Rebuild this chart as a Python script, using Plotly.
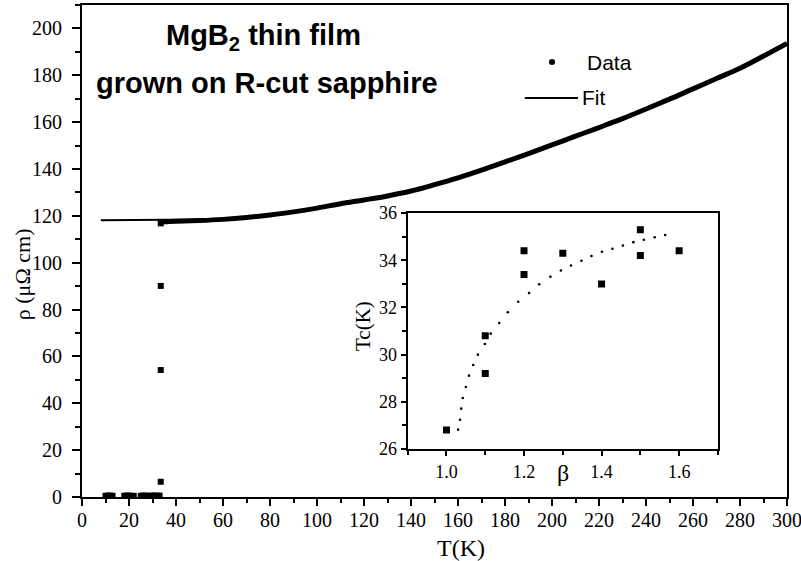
import plotly.graph_objects as go

# ---------------- main panel data ----------------
# normal-state data (dense band)
band_T = [34, 40, 50, 60, 70, 80, 90, 100, 110, 120, 130, 140, 150, 160, 170,
          180, 190, 200, 210, 220, 230, 240, 250, 260, 270, 280, 290, 300]
band_rho = [117.4, 117.7, 118.0, 118.5, 119.3, 120.4, 121.7, 123.3, 125.2, 126.8,
            128.5, 130.6, 133.3, 136.2, 139.5, 143.0, 146.6, 150.3, 154.0, 157.7,
            161.5, 165.6, 169.8, 174.2, 178.6, 183.0, 188.2, 193.6]

# superconducting / transition data points
pts_T = [10, 11, 12, 13, 18, 19, 20, 21, 22, 25, 26, 27, 28, 29, 30, 31, 32, 33,
         33.5, 33.5, 33.5, 33.5]
pts_rho = [0.5, 0.6, 0.6, 0.5, 0.5, 0.6, 0.6, 0.5, 0.5, 0.5, 0.6, 0.6, 0.5, 0.5,
           0.6, 0.6, 0.5, 0.6, 6.5, 54.2, 90.1, 116.8]

# fit curve
fit_T = [8, 20, 30, 40, 50, 60, 70, 80, 90, 100, 110, 120, 130, 140, 150, 160, 170,
         180, 190, 200, 210, 220, 230, 240, 250, 260, 270, 280, 290, 300]
fit_rho = [118.1, 118.1, 118.1, 118.2, 118.4, 118.8, 119.5, 120.5, 121.8, 123.3,
           125.1, 126.9, 128.7, 130.8, 133.4, 136.3, 139.5, 143.0, 146.6, 150.3,
           154.0, 157.7, 161.5, 165.6, 169.8, 174.2, 178.6, 183.0, 188.2, 193.6]

# ---------------- inset data ----------------
beta = [1.0, 1.1, 1.1, 1.2, 1.2, 1.3, 1.4, 1.5, 1.5, 1.6]
tc = [26.8, 30.8, 29.2, 34.4, 33.4, 34.3, 33.0, 35.3, 34.2, 34.4]

beta_fit = [1.030, 1.035, 1.038, 1.042, 1.050, 1.058, 1.069, 1.081, 1.099, 1.114,
            1.136, 1.158, 1.185, 1.213, 1.239, 1.268, 1.295, 1.321, 1.348, 1.374,
            1.401, 1.428, 1.455, 1.482, 1.509, 1.537, 1.564]
tc_fit = [26.82, 27.24, 27.71, 28.16, 28.63, 29.11, 29.56, 30.00, 30.45, 30.89,
          31.34, 31.80, 32.24, 32.61, 32.98, 33.30, 33.57, 33.78, 33.98, 34.18,
          34.36, 34.49, 34.63, 34.77, 34.87, 34.98, 35.07]

main_xticks = list(range(0, 301, 20))
main_yticks = list(range(0, 201, 20))
inset_xticks = [1.0, 1.2, 1.4, 1.6]
inset_yticks = [26, 28, 30, 32, 34, 36]

SERIF = "Liberation Serif, Times New Roman, serif"
SANS = "Liberation Sans, Arial, sans-serif"

fig = go.Figure()
fig.add_trace(go.Scatter(x=fit_T, y=fit_rho, mode="lines",
                         line=dict(color="black", width=2), showlegend=False))
fig.add_trace(go.Scatter(x=band_T, y=band_rho, mode="lines",
                         line=dict(color="black", width=5, shape="spline"),
                         showlegend=False))
fig.add_trace(go.Scatter(x=pts_T, y=pts_rho, mode="markers",
                         marker=dict(symbol="square", size=6, color="black"),
                         showlegend=False))

fig.add_trace(go.Scatter(x=beta_fit, y=tc_fit, mode="markers",
                         marker=dict(symbol="circle", size=2.6, color="black"),
                         xaxis="x2", yaxis="y2", showlegend=False))
fig.add_trace(go.Scatter(x=beta, y=tc, mode="markers",
                         marker=dict(symbol="square", size=7, color="black"),
                         xaxis="x2", yaxis="y2", showlegend=False))

axis_common = dict(showline=True, linecolor="black", mirror=True, ticks="outside",
                   tickcolor="black", showgrid=False, zeroline=False, automargin=False,
                   ticklabeloverflow="allow")

fig.update_layout(
    width=801, height=561,
    margin=dict(l=82, r=14, t=5, b=64, autoexpand=False),
    paper_bgcolor="white", plot_bgcolor="white",
    showlegend=False,
    xaxis=dict(range=[0, 300], tickvals=main_xticks, linewidth=2, ticklen=7,
               tickwidth=2, ticklabelstandoff=-3,
               minor=dict(dtick=10, ticks="outside", ticklen=4, tickwidth=2,
                          tickcolor="black", showgrid=False),
               tickfont=dict(family=SERIF, size=20, color="black"), **axis_common),
    yaxis=dict(range=[0, 210], tickvals=main_yticks, linewidth=2, ticklen=8,
               tickwidth=2, ticklabelstandoff=6,
               minor=dict(dtick=10, ticks="outside", ticklen=5, tickwidth=2,
                          tickcolor="black", showgrid=False),
               tickfont=dict(family=SERIF, size=20, color="black"), **axis_common),
    xaxis2=dict(domain=[0.462, 0.902], anchor="y2", range=[0.9, 1.7],
                tickvals=inset_xticks, ticktext=["1.0", "1.2", "1.4", "1.6"],
                linewidth=2, ticklen=5, tickwidth=1.5,
                minor=dict(dtick=0.1, ticks="outside", ticklen=4, tickwidth=1.5,
                           tickcolor="black", showgrid=False),
                tickfont=dict(family=SERIF, size=18, color="black"), **axis_common),
    yaxis2=dict(domain=[0.0976, 0.577], anchor="x2", range=[26, 36],
                tickvals=inset_yticks, linewidth=2, ticklen=5, tickwidth=1.5,
                ticklabelstandoff=0,
                minor=dict(dtick=1, ticks="outside", ticklen=4, tickwidth=1.5,
                           tickcolor="black", showgrid=False),
                tickfont=dict(family=SERIF, size=18, color="black"), **axis_common),
)

# white background behind the inset
fig.add_shape(type="rect", xref="x2 domain", yref="y2 domain", x0=0, x1=1, y0=0, y1=1,
              fillcolor="white", line=dict(width=0), layer="below")

annotations = [
    dict(text="<b>MgB<sub>2</sub> thin film</b>", x=0.258, y=0.935,
         font=dict(family=SANS, size=29, color="black")),
    dict(text="<b>grown on R-cut sapphire</b>", x=0.262, y=0.841,
         font=dict(family=SANS, size=29, color="black")),
    dict(text="Data", x=0.7135, y=0.884, xanchor="left",
         font=dict(family=SANS, size=21, color="black")),
    dict(text="Fit", x=0.706, y=0.811, xanchor="left",
         font=dict(family=SANS, size=21, color="black")),
    dict(text="T(K)", x=0.5376, y=-0.1037,
         font=dict(family=SERIF, size=24, color="black")),
    dict(text="ρ (μΩ cm)", x=-0.085, y=0.453, textangle=-90,
         font=dict(family=SERIF, size=22, color="black")),
    dict(text="Tc(K)", x=0.3986, y=0.3476, textangle=-90,
         font=dict(family=SERIF, size=21, color="black")),
    dict(text="β", x=0.682, y=0.0488,
         font=dict(family=SERIF, size=24, color="black")),
]
for a in annotations:
    a.setdefault("xanchor", "center")
    fig.add_annotation(xref="paper", yref="paper", yanchor="middle",
                       showarrow=False, **a)

# manual legend keys
fig.add_shape(type="circle", xref="paper", yref="paper",
              x0=0.6667 - 0.0043, x1=0.6667 + 0.0043,
              y0=0.884 - 0.0061, y1=0.884 + 0.0061,
              fillcolor="black", line=dict(width=0))
fig.add_shape(type="line", xref="paper", yref="paper",
              x0=0.628, x1=0.7035, y0=0.811, y1=0.811,
              line=dict(color="black", width=2))

fig.write_html("out.html", config={"displayModeBar": False},
               post_script="document.body.style.margin='0';document.body.style.overflow='hidden';")
